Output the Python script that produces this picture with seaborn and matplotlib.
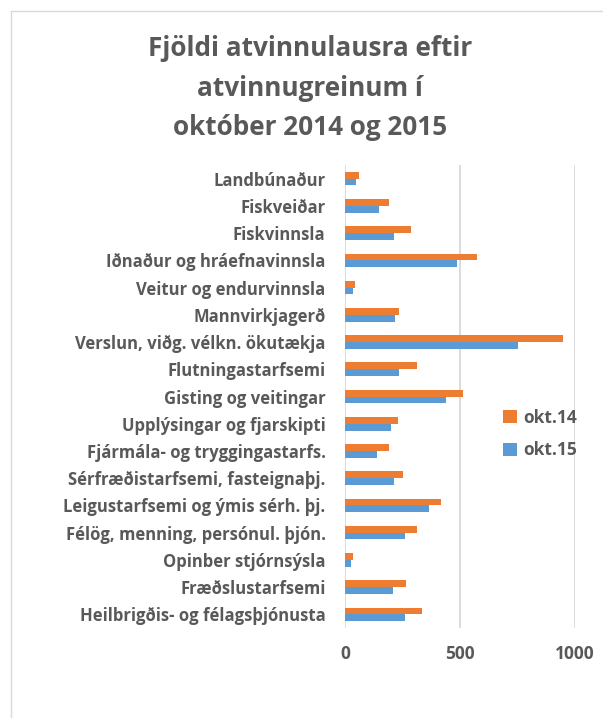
"""Unemployment by industry, October 2014 vs 2015."""
import matplotlib
matplotlib.use("Agg")
import matplotlib.pyplot as plt
import pandas as pd
import seaborn as sns
from matplotlib.lines import Line2D

sns.set_theme(style="white")
plt.rcParams["font.family"] = ["Open Sans", "DejaVu Sans"]

GREY = "#595959"
ORANGE = "#ED7D31"
BLUE = "#5B9BD5"

categories = [
    "Landbúnaður",
    "Fiskveiðar",
    "Fiskvinnsla",
    "Iðnaður og hráefnavinnsla",
    "Veitur og endurvinnsla",
    "Mannvirkjagerð",
    "Verslun, viðg. vélkn. ökutækja",
    "Flutningastarfsemi",
    "Gisting og veitingar",
    "Upplýsingar og fjarskipti",
    "Fjármála- og tryggingastarfs.",
    "Sérfræðistarfsemi, fasteignaþj.",
    "Leigustarfsemi og ýmis sérh. þj.",
    "Félög, menning, persónul. þjón.",
    "Opinber stjórnsýsla",
    "Fræðslustarfsemi",
    "Heilbrigðis- og félagsþjónusta",
]
okt14 = [61, 191, 287, 572, 45, 234, 948, 311, 515, 230, 192, 253, 418, 313, 36, 266, 333]
okt15 = [47, 147, 211, 485, 33, 217, 754, 234, 438, 202, 140, 214, 364, 259, 25, 207, 259]
series = ["okt.14", "okt.15"]

df = pd.DataFrame({
    "category": categories * 2,
    "value": okt14 + okt15,
    "period": [series[0]] * len(categories) + [series[1]] * len(categories),
})

fig = plt.figure(figsize=(6.03, 7.18), dpi=100)
ax = fig.add_axes([345 / 603, 1 - 628 / 718, 230 / 603, 463 / 718])

sns.barplot(
    data=df, x="value", y="category", hue="period", orient="h",
    palette=[ORANGE, BLUE], saturation=1, width=0.5, linewidth=0, ax=ax,
)

ax.set_xlim(0, 1000)
ax.set_ylim(len(categories) - 0.5, -0.5)
ax.set_xticks([0, 500, 1000])
ax.xaxis.grid(True, color="#d9d9d9", linewidth=1.3)
ax.set_axisbelow(True)
for side in ax.spines.values():
    side.set_visible(False)
ax.set_xlabel("")
ax.set_ylabel("")
ax.tick_params(axis="x", length=0, pad=12, labelsize=12.5, labelcolor=GREY)
ax.tick_params(axis="y", length=0, pad=14, labelsize=12, labelcolor=GREY)
for lbl in ax.get_xticklabels() + ax.get_yticklabels():
    lbl.set_fontweight("bold")

ax.legend(
    loc="upper left", bbox_to_anchor=(487 / 603, 1 - 393 / 718),
    bbox_transform=fig.transFigure, frameon=False, handlelength=0.8,
    handleheight=0.8, handletextpad=0.4, labelspacing=0.85,
    prop={"size": 12.5, "weight": "bold"}, labelcolor=GREY,
)

fig.text(
    310 / 603, 1 - 35 / 718,
    "Fjöldi atvinnulausra eftir\natvinnugreinum í\noktóber 2014 og 2015",
    ha="center", va="top", fontsize=18.8, fontweight="bold", color=GREY,
    linespacing=1.6,
)

# chart-area border (cropped at right and bottom)
fig.add_artist(Line2D([11 / 603, 1], [1 - 11 / 718] * 2, transform=fig.transFigure,
                      color="#d9d9d9", linewidth=1))
fig.add_artist(Line2D([11 / 603] * 2, [0, 1 - 11 / 718], transform=fig.transFigure,
                      color="#d9d9d9", linewidth=1))

fig.savefig("out.png", dpi=100)
